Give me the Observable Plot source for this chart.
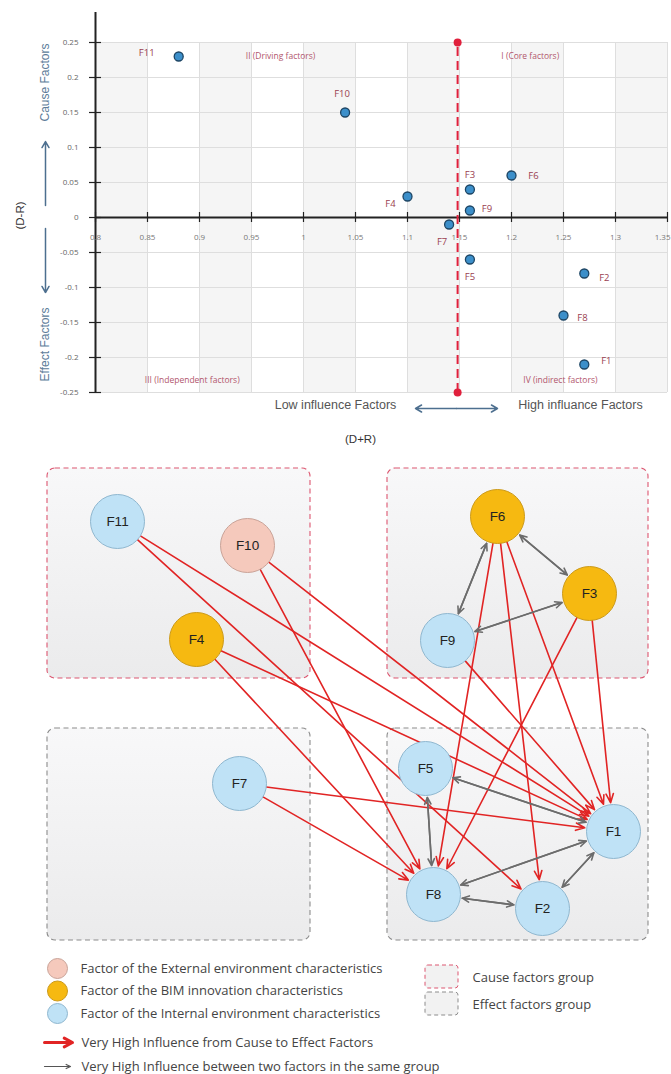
<!DOCTYPE html>
<html><head><meta charset="utf-8">
<script src="https://cdn.jsdelivr.net/npm/d3@7"></script>
<script src="https://cdn.jsdelivr.net/npm/@observablehq/plot@0.6"></script>
<style>
body{margin:0;background:#fff;}
#chart{width:671px;}
#chart svg{display:block;}
</style></head><body><div id="chart"></div>
<script>
// ---------- Scatter data (D+R, D-R) ----------
const factors = ["F1","F2","F3","F4","F5","F6","F7","F8","F9","F10","F11"];
const dPlusR  = [1.27, 1.27, 1.16, 1.10, 1.16, 1.20, 1.14, 1.25, 1.16, 1.04, 0.88];
const dMinusR = [-0.21,-0.08, 0.04, 0.03,-0.06, 0.06,-0.01,-0.14, 0.01, 0.15, 0.23];
const xTicks = [0.8,0.85,0.9,0.95,1,1.05,1.1,1.15,1.2,1.25,1.3,1.35];
const yTicks = [-0.25,-0.2,-0.15,-0.1,-0.05,0,0.05,0.1,0.15,0.2,0.25];
const quadrantNames = ["II (Driving factors)","I (Core factors)","III (Independent factors)","IV (indirect factors)"];
const quadrantCenters = [0.978, 1.218, 0.893, 1.247];
const quadrantSide = ["top","top","bottom","bottom"];

// ---------- Network data ----------
const nodeNames = ["F1","F2","F3","F4","F5","F6","F7","F8","F9","F10","F11"];
const nodeType  = ["internal","internal","bim","bim","internal","bim","internal","internal","internal","external","internal"];
const nodeLayoutX = [613, 542, 589, 196, 425, 497, 239, 433, 447, 247, 117];
const nodeLayoutY = [831, 908, 593, 639, 768, 516, 783, 894, 640, 545, 521];
const causeFrom = ["F11","F11","F10","F10","F4","F4","F7","F7","F6","F6","F6","F3","F3","F9"];
const causeTo   = ["F1", "F2", "F1", "F8", "F1","F8","F1","F8","F8","F2","F1","F8","F1","F1"];
const groupFrom = ["F6","F6","F9","F5","F5","F8","F8","F2"];
const groupTo   = ["F3","F9","F3","F1","F8","F1","F2","F1"];
const groupNames = ["cause","cause","effect","effect"];
const groupX1 = [47, 387, 47, 387];
const groupX2 = [310, 648, 310, 648];
const groupY1 = [468, 468, 728, 728];
const groupY2 = [678, 678, 940, 940];

// ---------- Legend data ----------
const legendTypes = ["external","bim","internal"];
const legendTypeLabels = ["Factor of the External environment characteristics","Factor of the BIM innovation characteristics","Factor of the Internal environment characteristics"];
const legendArrowLabels = ["Very High Influence from Cause to Effect Factors","Very High Influence between two factors in the same group"];
const legendGroupLabels = ["Cause factors group","Effect factors group"];

// ---------- styles / layout (not data) ----------
const typeFill = {external:"#f5c9bc", bim:"#f6b911", internal:"#bfe2f6"};
const typeStroke = {external:"#c9a398", bim:"#cc9a1a", internal:"#8fb7cf"};
const groupStroke = {cause:"#dc5670", effect:"#8c8c8c"};
const labelOffset = {F1:[22,-4],F2:[20,4],F3:[0,-15],F4:[-17,7],F5:[0,17],F6:[22,0],F7:[-7,17],F8:[19,2],F9:[17,-2],F10:[-3,-19],F11:[-32,-4]};
const sansA = "'Liberation Sans', Arial, sans-serif";

const points = factors.map((f,i)=>({f, x:dPlusR[i], y:dMinusR[i]}));
const thresholdDR = d3.mean(dPlusR);
const bands = xTicks.filter((d,i)=> i%2===0 && d < 1.35);
const quads = quadrantNames.map((q,i)=>({q, x:quadrantCenters[i], side:quadrantSide[i]}));
const pxPerY = 350/0.5, pxPerX = 572/0.55;
const xAt = px => 0.8 + (px-95)/pxPerX;
const yAt = py => (217-py)/pxPerY;
const xTicksInner = xTicks.slice(0, -1);
const xTickLast = xTicks.slice(-1);

const scatter = Plot.plot({
  width: 671, height: 450,
  marginLeft: 95, marginRight: 4, marginTop: 42, marginBottom: 58,
  x: {domain:[0.8,1.35], axis:null},
  y: {domain:[-0.25,0.25], axis:null},
  style: {fontFamily:"'Open Sans', sans-serif", overflow:"visible", background:"#fff"},
  marks: [
    Plot.rect(bands, {x1:d=>d, x2:d=>d+0.05, y1:-0.25, y2:0.25, fill:"#f5f5f5"}),
    Plot.ruleX(xTicks, {y1:-0.25, y2:0.25, stroke:"#dedede", strokeWidth:1}),
    Plot.ruleY(yTicks, {stroke:"#dedede", strokeWidth:1}),
    Plot.ruleY([0], {stroke:"#222", strokeWidth:2}),
    Plot.ruleX([0.8], {y1:-0.25, y2:yAt(12), stroke:"#222", strokeWidth:2}),
    Plot.ruleY(yTicks, {x1:xAt(89), x2:xAt(101), stroke:"#222", strokeWidth:1.2}),
    Plot.ruleX(xTicks, {y1:yAt(212), y2:yAt(222), stroke:"#222", strokeWidth:1.2}),
    Plot.text(yTicks, {y:d=>d, text:d=>String(d), frameAnchor:"left", dx:-17, textAnchor:"end", fontSize:8, fill:"#666"}),
    Plot.text(xTicksInner, {x:d=>d, y:0, dy:20, text:d=>String(d), fontSize:8, fill:"#777"}),
    Plot.text(xTickLast, {x:d=>d, y:0, dy:20, dx:3, text:d=>String(d), textAnchor:"end", fontSize:8, fill:"#777"}),
    Plot.ruleX([thresholdDR], {y1:-0.25, y2:0.25, stroke:"#e0203c", strokeWidth:2, strokeDasharray:"9,5"}),
    Plot.dot([thresholdDR], {x:d=>d, y:0.25, r:4, fill:"#e0203c"}),
    Plot.dot([thresholdDR], {x:d=>d, y:-0.25, r:4, fill:"#e0203c"}),
    ...quads.map(q => Plot.text([q], {x:"x", text:"q", frameAnchor:q.side, textAnchor:"middle", dy: q.side==="top"? 10 : -10, fontSize:8.5, fill:"#b2566d"})),
    Plot.dot(points, {x:"x", y:"y", r:4.5, fill:"#3c8fca", stroke:"#1d4564", strokeWidth:1.3}),
    ...points.map(p => Plot.text([p], {x:"x", y:"y", text:"f", dx:labelOffset[p.f][0], dy:labelOffset[p.f][1], fontSize:9.5, fill:"#9a4050"})),
    // axis annotations
    Plot.text(["(D-R)"], {frameAnchor:"left", textAnchor:"middle", y:yAt(215), dx:-75, rotate:-90, text:d=>d, fontSize:11.5, fill:"#333", fontFamily:sansA}),
    Plot.text(["Cause Factors"], {frameAnchor:"left", textAnchor:"middle", y:yAt(82), dx:-50, rotate:-90, text:d=>d, fontSize:12, fill:"#5d7c99", fontFamily:sansA}),
    Plot.text(["Effect Factors"], {frameAnchor:"left", textAnchor:"middle", y:yAt(344), dx:-50, rotate:-90, text:d=>d, fontSize:12, fill:"#5d7c99", fontFamily:sansA}),
    Plot.arrow([0], {x1:xAt(45), x2:xAt(45), y1:yAt(205), y2:yAt(141), stroke:"#4d6f8f", strokeWidth:1.5, headLength:7}),
    Plot.arrow([0], {x1:xAt(45), x2:xAt(45), y1:yAt(228), y2:yAt(292), stroke:"#4d6f8f", strokeWidth:1.5, headLength:7}),
    Plot.text(["Low influence Factors"], {x:xAt(335), frameAnchor:"bottom", textAnchor:"middle", dy:16, text:d=>d, fontSize:12.5, fill:"#555", fontFamily:sansA}),
    Plot.text(["High influance Factors"], {x:xAt(580), frameAnchor:"bottom", textAnchor:"middle", dy:16, text:d=>d, fontSize:12.5, fill:"#555", fontFamily:sansA}),
    Plot.arrow([0], {x1:xAt(456), x2:xAt(415), y1:yAt(408), y2:yAt(408), stroke:"#4d6f8f", strokeWidth:1.5, headLength:7}),
    Plot.arrow([0], {x1:xAt(456), x2:xAt(497), y1:yAt(408), y2:yAt(408), stroke:"#4d6f8f", strokeWidth:1.5, headLength:7}),
    Plot.text(["(D+R)"], {x:xAt(360), frameAnchor:"bottom", textAnchor:"middle", dy:50, text:d=>d, fontSize:11.5, fill:"#333", fontFamily:sansA})
  ]
});

// ---------- Network ----------
const nodes = nodeNames.map((n,i)=>({n, type:nodeType[i], x:nodeLayoutX[i], y:nodeLayoutY[i]}));
const nodeById = Object.fromEntries(nodes.map(d=>[d.n,d]));
const causeEdges = causeFrom.map((s,i)=>({s:nodeById[s], t:nodeById[causeTo[i]]}));
const groupEdges = groupFrom.flatMap((s,i)=>[{s:nodeById[s], t:nodeById[groupTo[i]]},{s:nodeById[groupTo[i]], t:nodeById[s]}]);
const groups = groupNames.map((g,i)=>({g, x1:groupX1[i], x2:groupX2[i], y1:groupY1[i], y2:groupY2[i]}));
const legTypes = legendTypes.map((t,i)=>({t, label:legendTypeLabels[i], row:i}));
const legArrows = legendArrowLabels.map((l,i)=>({l, row:i}));
const legGroups = legendGroupLabels.map((l,i)=>({l, g: i===0?"cause":"effect", row:i}));

const network = Plot.plot({
  width: 671, height: 624,
  marginLeft:0, marginRight:0, marginTop:0, marginBottom:0,
  x: {domain:[0,671], range:[0,671], axis:null},
  y: {domain:[450,1074], range:[0,624], axis:null},
  style: {fontFamily:"'Open Sans', sans-serif", overflow:"visible", background:"#fff"},
  marks: [
    Plot.rect(groups, {x1:"x1", x2:"x2", y1:"y1", y2:"y2", rx:8, ry:8, fill:"url(#boxgrad)", stroke:d=>groupStroke[d.g], strokeWidth:1.1, strokeDasharray:"5,3.5"}),
    Plot.arrow(causeEdges, {x1:d=>d.s.x, y1:d=>d.s.y, x2:d=>d.t.x, y2:d=>d.t.y, insetStart:27, insetEnd:29, stroke:"#e12424", strokeWidth:1.6, headLength:9, headAngle:45}),
    Plot.arrow(groupEdges, {x1:d=>d.s.x, y1:d=>d.s.y, x2:d=>d.t.x, y2:d=>d.t.y, insetStart:29, insetEnd:29, stroke:"#6c6c6c", strokeWidth:1.6, headLength:7, headAngle:50}),
    Plot.dot(nodes, {x:"x", y:"y", r:27, fill:d=>typeFill[d.type], stroke:d=>typeStroke[d.type], strokeWidth:1}),
    Plot.text(nodes, {x:"x", y:"y", text:"n", fontSize:13.5, fill:"#222", fontFamily:sansA}),
    // legend
    Plot.dot(legTypes, {x:57, y:d=>968 + d.row*22.5, r:10, fill:d=>typeFill[d.t], stroke:d=>typeStroke[d.t], strokeWidth:1}),
    Plot.text(legTypes, {x:80, y:d=>968 + d.row*22.5, text:"label", textAnchor:"start", fontSize:13, fill:"#444"}),
    Plot.arrow(legArrows.slice(0,1), {x1:44, x2:72, y1:1042, y2:1042, stroke:"#e12424", strokeWidth:3, headLength:9, headAngle:55}),
    Plot.arrow(legArrows.slice(1), {x1:44, x2:70, y1:1066, y2:1066, stroke:"#555", strokeWidth:1.2, headLength:6, headAngle:50}),
    Plot.text(legArrows, {x:81, y:d=>1042 + d.row*24, text:"l", textAnchor:"start", fontSize:13, fill:"#444"}),
    Plot.rect(legGroups, {x1:425, x2:458, y1:d=>965 + d.row*27, y2:d=>988 + d.row*27, rx:3, ry:3, fill:"#f2f2f2", stroke:d=>groupStroke[d.g], strokeWidth:1, strokeDasharray:"4,3"}),
    Plot.text(legGroups, {x:472, y:d=>977 + d.row*27, text:"l", textAnchor:"start", fontSize:13, fill:"#444"})
  ]
});

const defs = d3.select(network).insert("defs", ":first-child");
const grad = defs.append("linearGradient").attr("id","boxgrad").attr("x1",0).attr("y1",0).attr("x2",0).attr("y2",1);
grad.append("stop").attr("offset","0%").attr("stop-color","#f8f8f9");
grad.append("stop").attr("offset","100%").attr("stop-color","#ebebec");

document.getElementById("chart").append(scatter, network);
</script>
</body></html>
